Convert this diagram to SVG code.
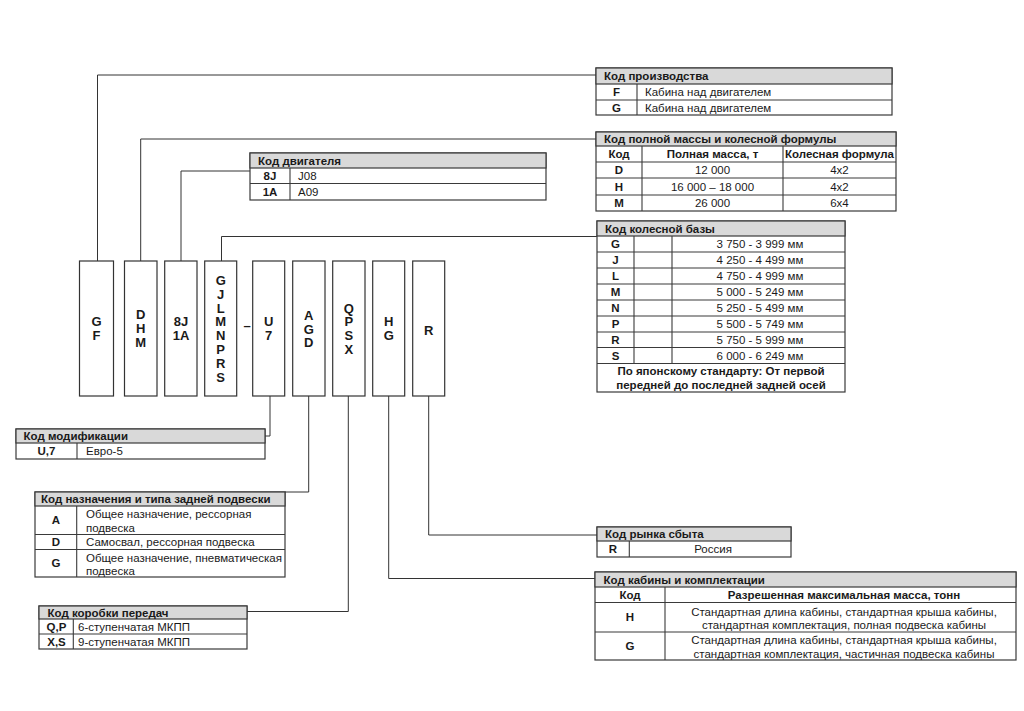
<svg xmlns="http://www.w3.org/2000/svg" width="1024" height="711" viewBox="0 0 1024 711">
<style>
.bg{fill:#fff}
.tbl{fill:#fff;stroke:#3a3a3a;stroke-width:1.2}
.hd{fill:#d9d9d9;stroke:#3a3a3a;stroke-width:1.2}
.ln{stroke:#3a3a3a;stroke-width:1.1;fill:none}
.box{fill:#fff;stroke:#333;stroke-width:1.2}
.con{stroke:#333;stroke-width:1;fill:none}
text{font-family:"Liberation Sans",Arial,sans-serif;fill:#1a1a1a}
.t{font-size:11.5px}
.tb{font-size:11.5px;font-weight:bold}
.c{text-anchor:middle}
.bt{font-size:13px;font-weight:bold;text-anchor:middle}
</style>
<rect class="bg" width="1024" height="711"/>

<g id="connectors">
<polyline class="con" points="97.5,261 97.5,75 596,75"/>
<polyline class="con" points="140.7,261 140.7,139 596,139"/>
<polyline class="con" points="181,261 181,171 250,171"/>
<polyline class="con" points="221.5,261 221.5,236.5 597,236.5"/>
<polyline class="con" points="270,396 270,436 265,436"/>
<polyline class="con" points="308.7,396 308.7,492 285,492"/>
<polyline class="con" points="348.3,396 348.3,611.5 247,611.5"/>
<polyline class="con" points="388.7,396 388.7,578.5 595,578.5"/>
<polyline class="con" points="428.7,396 428.7,535 597,535"/>
</g>

<g id="box-gf">
<rect class="box" x="79.5" y="261" width="34" height="135"/>
<text class="bt" x="96.5" y="326">G</text>
<text class="bt" x="96.5" y="339.8">F</text>
</g>
<g id="box-dhm">
<rect class="box" x="124.5" y="261" width="32.5" height="135"/>
<text class="bt" x="140.7" y="319">D</text>
<text class="bt" x="140.7" y="333">H</text>
<text class="bt" x="140.7" y="347">M</text>
</g>
<g id="box-engine">
<rect class="box" x="164.7" y="261" width="32.3" height="135"/>
<text class="bt" x="181" y="326">8J</text>
<text class="bt" x="181" y="339.8">1A</text>
</g>
<g id="box-wheelbase">
<rect class="box" x="204.7" y="261" width="32" height="135"/>
<text class="bt" x="220.7" y="285">G</text>
<text class="bt" x="220.7" y="298.8">J</text>
<text class="bt" x="220.7" y="312.6">L</text>
<text class="bt" x="220.7" y="326.4">M</text>
<text class="bt" x="220.7" y="340.2">N</text>
<text class="bt" x="220.7" y="354">P</text>
<text class="bt" x="220.7" y="367.8">R</text>
<text class="bt" x="220.7" y="381.6">S</text>
</g>
<g id="dash">
<text class="bt" x="247" y="330">–</text>
</g>
<g id="box-u7">
<rect class="box" x="252.7" y="261" width="32" height="135"/>
<text class="bt" x="268.7" y="326">U</text>
<text class="bt" x="268.7" y="339.8">7</text>
</g>
<g id="box-agd">
<rect class="box" x="292.7" y="261" width="32.3" height="135"/>
<text class="bt" x="308.8" y="320">A</text>
<text class="bt" x="308.8" y="333.5">G</text>
<text class="bt" x="308.8" y="347">D</text>
</g>
<g id="box-qpsx">
<rect class="box" x="332.7" y="261" width="32.3" height="135"/>
<text class="bt" x="348.8" y="312.6">Q</text>
<text class="bt" x="348.8" y="326.4">P</text>
<text class="bt" x="348.8" y="340.2">S</text>
<text class="bt" x="348.8" y="354">X</text>
</g>
<g id="box-hg">
<rect class="box" x="372.7" y="261" width="32" height="135"/>
<text class="bt" x="388.7" y="326">H</text>
<text class="bt" x="388.7" y="339.8">G</text>
</g>
<g id="box-r">
<rect class="box" x="412.7" y="261" width="32" height="135"/>
<text class="bt" x="428.7" y="334.5">R</text>
</g>

<g id="tbl-production">
<rect class="tbl" x="596" y="68" width="296" height="47"/>
<rect class="hd" x="596" y="68" width="296" height="16"/>
<line class="ln" x1="596" y1="100" x2="892" y2="100"/>
<line class="ln" x1="637" y1="84" x2="637" y2="115"/>
<text class="tb" x="604" y="80">Код производства</text>
<text class="tb c" x="616.5" y="96">F</text>
<text class="t" x="645" y="96">Кабина над двигателем</text>
<text class="tb c" x="616.5" y="111.5">G</text>
<text class="t" x="645" y="111.5">Кабина над двигателем</text>
</g>

<g id="tbl-mass">
<rect class="tbl" x="596" y="132" width="300" height="79"/>
<rect class="hd" x="596" y="132" width="300" height="14"/>
<line class="ln" x1="596" y1="162" x2="896" y2="162"/>
<line class="ln" x1="596" y1="178" x2="896" y2="178"/>
<line class="ln" x1="596" y1="195" x2="896" y2="195"/>
<line class="ln" x1="642" y1="146" x2="642" y2="211"/>
<line class="ln" x1="783" y1="146" x2="783" y2="211"/>
<text class="tb" x="604" y="143">Код полной массы и колесной формулы</text>
<text class="tb c" x="619" y="158">Код</text>
<text class="tb c" x="712.5" y="158">Полная масса, т</text>
<text class="tb c" x="839.5" y="158">Колесная формула</text>
<text class="tb c" x="619" y="174">D</text>
<text class="t c" x="712.5" y="174">12 000</text>
<text class="t c" x="839.5" y="174">4x2</text>
<text class="tb c" x="619" y="190.5">H</text>
<text class="t c" x="712.5" y="190.5">16 000 – 18 000</text>
<text class="t c" x="839.5" y="190.5">4x2</text>
<text class="tb c" x="619" y="207">M</text>
<text class="t c" x="712.5" y="207">26 000</text>
<text class="t c" x="839.5" y="207">6x4</text>
</g>

<g id="tbl-engine">
<rect class="tbl" x="250" y="153" width="296" height="47"/>
<rect class="hd" x="250" y="153" width="296" height="15"/>
<line class="ln" x1="250" y1="183.5" x2="546" y2="183.5"/>
<line class="ln" x1="290" y1="168" x2="290" y2="200"/>
<text class="tb" x="258" y="164.5">Код двигателя</text>
<text class="tb c" x="270" y="179.5">8J</text>
<text class="t" x="298" y="179.5">J08</text>
<text class="tb c" x="270" y="195.5">1A</text>
<text class="t" x="298" y="195.5">A09</text>
</g>

<g id="tbl-wheelbase">
<rect class="tbl" x="597" y="221" width="248" height="171"/>
<rect class="hd" x="597" y="221" width="248" height="15"/>
<line class="ln" x1="597" y1="252" x2="845" y2="252"/>
<line class="ln" x1="597" y1="268" x2="845" y2="268"/>
<line class="ln" x1="597" y1="284" x2="845" y2="284"/>
<line class="ln" x1="597" y1="300" x2="845" y2="300"/>
<line class="ln" x1="597" y1="316" x2="845" y2="316"/>
<line class="ln" x1="597" y1="332" x2="845" y2="332"/>
<line class="ln" x1="597" y1="347.5" x2="845" y2="347.5"/>
<line class="ln" x1="597" y1="363.5" x2="845" y2="363.5"/>
<line class="ln" x1="634" y1="236" x2="634" y2="363.5"/>
<line class="ln" x1="672" y1="236" x2="672" y2="363.5"/>
<text class="tb" x="605" y="232.5">Код колесной базы</text>
<text class="tb c" x="615.5" y="248">G</text>
<text class="t c" x="760" y="248">3 750 - 3 999 мм</text>
<text class="tb c" x="615.5" y="264">J</text>
<text class="t c" x="760" y="264">4 250 - 4 499 мм</text>
<text class="tb c" x="615.5" y="280">L</text>
<text class="t c" x="760" y="280">4 750 - 4 999 мм</text>
<text class="tb c" x="615.5" y="296">M</text>
<text class="t c" x="760" y="296">5 000 - 5 249 мм</text>
<text class="tb c" x="615.5" y="312">N</text>
<text class="t c" x="760" y="312">5 250 - 5 499 мм</text>
<text class="tb c" x="615.5" y="328">P</text>
<text class="t c" x="760" y="328">5 500 - 5 749 мм</text>
<text class="tb c" x="615.5" y="343.8">R</text>
<text class="t c" x="760" y="343.8">5 750 - 5 999 мм</text>
<text class="tb c" x="615.5" y="359.5">S</text>
<text class="t c" x="760" y="359.5">6 000 - 6 249 мм</text>
<text class="tb c" x="721" y="374.5">По японскому стандарту: От первой</text>
<text class="tb c" x="721" y="388.5">передней до последней задней осей</text>
</g>

<g id="tbl-modification">
<rect class="tbl" x="16" y="429" width="249" height="30"/>
<rect class="hd" x="16" y="429" width="249" height="14"/>
<line class="ln" x1="77" y1="443" x2="77" y2="459"/>
<text class="tb" x="23.5" y="440">Код модификации</text>
<text class="tb c" x="46.5" y="455">U,7</text>
<text class="t" x="86" y="455">Евро-5</text>
</g>

<g id="tbl-purpose">
<rect class="tbl" x="35" y="492" width="250" height="85"/>
<rect class="hd" x="35" y="492" width="250" height="14"/>
<line class="ln" x1="35" y1="534.5" x2="285" y2="534.5"/>
<line class="ln" x1="35" y1="549.5" x2="285" y2="549.5"/>
<line class="ln" x1="76.7" y1="506" x2="76.7" y2="577"/>
<text class="tb" x="41" y="503">Код назначения и типа задней подвески</text>
<text class="tb c" x="56" y="524">A</text>
<text class="t" x="86" y="518">Общее назначение, рессорная</text>
<text class="t" x="86" y="531.5">подвеска</text>
<text class="tb c" x="56" y="546">D</text>
<text class="t" x="86" y="546">Самосвал, рессорная подвеска</text>
<text class="tb c" x="56" y="567">G</text>
<text class="t" x="86" y="561.5">Общее назначение, пневматическая</text>
<text class="t" x="86" y="575">подвеска</text>
</g>

<g id="tbl-gearbox">
<rect class="tbl" x="39" y="606" width="208" height="43"/>
<rect class="hd" x="39" y="606" width="208" height="13"/>
<line class="ln" x1="39" y1="634" x2="247" y2="634"/>
<line class="ln" x1="73.3" y1="619" x2="73.3" y2="649"/>
<text class="tb" x="47.5" y="616.5">Код коробки передач</text>
<text class="tb c" x="56.5" y="630.5">Q,P</text>
<text class="t" x="78" y="630.5">6-ступенчатая МКПП</text>
<text class="tb c" x="56.5" y="645.5">X,S</text>
<text class="t" x="78" y="645.5">9-ступенчатая МКПП</text>
</g>

<g id="tbl-market">
<rect class="tbl" x="597" y="527" width="194" height="30"/>
<rect class="hd" x="597" y="527" width="194" height="14"/>
<line class="ln" x1="629.3" y1="541" x2="629.3" y2="557"/>
<text class="tb" x="605" y="538">Код рынка сбыта</text>
<text class="tb c" x="613" y="553">R</text>
<text class="t c" x="713" y="553">Россия</text>
</g>

<g id="tbl-cabin">
<rect class="tbl" x="595" y="572" width="421" height="88"/>
<rect class="hd" x="595" y="572" width="421" height="15"/>
<line class="ln" x1="595" y1="602.5" x2="1016" y2="602.5"/>
<line class="ln" x1="595" y1="632" x2="1016" y2="632"/>
<line class="ln" x1="665" y1="587" x2="665" y2="660"/>
<text class="tb" x="603.5" y="583.5">Код кабины и комплектации</text>
<text class="tb c" x="630" y="598.5">Код</text>
<text class="tb c" x="844" y="598.5">Разрешенная максимальная масса, тонн</text>
<text class="tb c" x="630" y="621">H</text>
<text class="t c" x="844" y="615.5">Стандартная длина кабины, стандартная крыша кабины,</text>
<text class="t c" x="844" y="629">стандартная комплектация, полная подвеска кабины</text>
<text class="tb c" x="630" y="650">G</text>
<text class="t c" x="844" y="644">Стандартная длина кабины, стандартная крыша кабины,</text>
<text class="t c" x="844" y="657.5">стандартная комплектация, частичная подвеска кабины</text>
</g>
</svg>
